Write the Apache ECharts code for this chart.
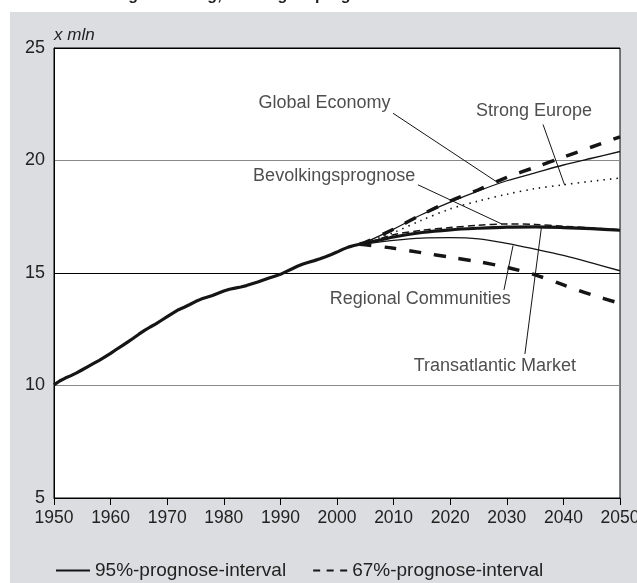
<!DOCTYPE html>
<html>
<head>
<meta charset="utf-8">
<script src="https://cdn.jsdelivr.net/npm/echarts@6/dist/echarts.min.js"></script>
<style>
  html, body { margin: 0; padding: 0; background: #fff; }
  #main { width: 637px; height: 583px; }
</style>
</head>
<body>
<div id="main"></div>
<script>
// observed population, x mln
var histYears = [1950, 1951, 1952, 1953, 1954, 1955, 1956, 1957, 1958, 1959,
  1960, 1961, 1962, 1963, 1964, 1965, 1966, 1967, 1968, 1969,
  1970, 1971, 1972, 1973, 1974, 1975, 1976, 1977, 1978, 1979,
  1980, 1981, 1982, 1983, 1984, 1985, 1986, 1987, 1988, 1989,
  1990, 1991, 1992, 1993, 1994, 1995, 1996, 1997, 1998, 1999,
  2000, 2001, 2002, 2003, 2004];
var histValues = [10.03, 10.2, 10.33, 10.44, 10.56, 10.7, 10.84, 10.98, 11.12, 11.27,
  11.43, 11.6, 11.76, 11.93, 12.1, 12.28, 12.45, 12.6, 12.74, 12.9,
  13.06, 13.22, 13.37, 13.48, 13.6, 13.73, 13.84, 13.92, 14.0, 14.1,
  14.2, 14.28, 14.33, 14.38, 14.44, 14.52, 14.6, 14.69, 14.78, 14.86,
  14.94, 15.06, 15.18, 15.3, 15.4, 15.48, 15.55, 15.63, 15.72, 15.82,
  15.93, 16.05, 16.15, 16.22, 16.28];

// projections
var projYears = [2004, 2005, 2010, 2015, 2020, 2025, 2030, 2035, 2040, 2045, 2050];
var upper95 = [16.28, 16.36, 16.95, 17.6, 18.2, 18.7, 19.25, 19.7, 20.15, 20.6, 21.05];
var globalEconomy = [16.28, 16.36, 16.95, 17.6, 18.15, 18.65, 19.1, 19.45, 19.8, 20.1, 20.4];
var strongEurope = [16.28, 16.34, 16.8, 17.35, 17.85, 18.2, 18.5, 18.75, 18.92, 19.08, 19.22];
var upper67 = [16.28, 16.32, 16.7, 16.9, 17.02, 17.12, 17.18, 17.16, 17.08, 17.0, 16.93];
var prognose = [16.28, 16.32, 16.6, 16.8, 16.92, 16.99, 17.04, 17.05, 17.02, 16.97, 16.9];
var regionalCommunities = [16.28, 16.3, 16.45, 16.55, 16.57, 16.52, 16.32, 16.06, 15.78, 15.45, 15.1];
var lower95 = [16.28, 16.25, 16.1, 15.9, 15.7, 15.5, 15.25, 14.92, 14.47, 14.03, 13.65];

// annotations: label position and leader line [from, to]
var noteNames = ['Global Economy', 'Strong Europe', 'Bevolkingsprognose', 'Regional Communities', 'Transatlantic Market'];
var notePos = [[1997.8, 22.57], [2034.8, 22.18], [1999.5, 19.32], [2014.7, 13.83], [2027.9, 10.88]];
var noteLines = [
  [[2009.9, 22.1], [2028.1, 19.07]],
  [[2036.4, 21.6], [2040.2, 18.92]],
  [[2014.3, 18.92], [2029.1, 17.18]],
  [[2029.5, 14.25], [2031.1, 16.22]],
  [[2033.2, 11.4], [2036.1, 16.99]]
];

var legendNames = ['95%-prognose-interval', '67%-prognose-interval'];
var yTickColors = ['#000', '#888', '#000', '#888', '#000'];

function pairs(xs, ys) {
  return xs.map(function (x, i) { return [x, ys[i]]; });
}

var font = "'Liberation Sans', Arial, sans-serif";
var ink = '#151515';

function projLine(name, values, width, type) {
  return {
    name: name,
    type: 'line',
    data: pairs(projYears, values),
    smooth: 0.3,
    symbol: 'none',
    silent: true,
    z: 3,
    lineStyle: { color: ink, width: width, type: type }
  };
}

var chart = echarts.init(document.getElementById('main'), null, { renderer: 'canvas' });

var option = {
  backgroundColor: '#fff',
  animation: false,
  textStyle: { fontFamily: font },
  graphic: [
    {
      type: 'rect',
      z: -10,
      silent: true,
      shape: { x: 10, y: 12, width: 627, height: 571 },
      style: { fill: '#dcdde0' }
    },
    {
      type: 'text',
      left: 74,
      top: -12,
      silent: true,
      style: {
        text: 'Omvang bevolking, omvang en prognose',
        font: 'bold 16px ' + font,
        fill: '#222'
      }
    }
  ],
  grid: {
    left: 54,
    right: 17,
    top: 48,
    bottom: 85,
    outerBoundsMode: 'none',
    containLabel: false,
    show: true,
    backgroundColor: '#fff',
    borderColor: '#000',
    borderWidth: 1
  },
  legend: {
    left: 55,
    bottom: 3,
    padding: 0,
    itemWidth: 34,
    itemHeight: 10,
    itemGap: 26,
    selectedMode: false,
    data: legendNames,
    itemStyle: { opacity: 0 },
    textStyle: { fontSize: 19, color: '#222', fontFamily: font }
  },
  xAxis: {
    type: 'value',
    min: 1950,
    max: 2050,
    interval: 10,
    axisLine: { lineStyle: { color: '#000', width: 1 } },
    axisTick: { show: true, length: 7, lineStyle: { color: '#000' } },
    axisLabel: {
      fontSize: 17.5,
      color: '#222',
      margin: 11,
      formatter: function (v) { return String(v); }
    },
    splitLine: { show: false }
  },
  yAxis: {
    type: 'value',
    min: 5,
    max: 25,
    interval: 5,
    name: 'x mln',
    nameLocation: 'end',
    nameGap: 4,
    nameTextStyle: { fontSize: 17, fontStyle: 'italic', color: '#222', align: 'left' },
    axisLine: { show: true, lineStyle: { color: '#000' } },
    axisTick: { show: false },
    axisLabel: { fontSize: 18, color: '#222', margin: 9 },
    splitLine: { show: true, lineStyle: { color: yTickColors, width: 1 } }
  },
  series: [
    {
      name: 'observed',
      type: 'line',
      data: pairs(histYears, histValues),
      symbol: 'none',
      silent: true,
      z: 4,
      lineStyle: { color: ink, width: 3.2 }
    },
    projLine('upper95', upper95, 3.5, [12, 13]),
    projLine('Global Economy', globalEconomy, 1.3, 'solid'),
    projLine('Strong Europe', strongEurope, 1.6, [1.5, 5]),
    projLine('upper67', upper67, 1.5, [7, 4]),
    projLine('Bevolkingsprognose', prognose, 3.2, 'solid'),
    projLine('Regional Communities', regionalCommunities, 1.3, 'solid'),
    projLine('lower95', lower95, 3.5, [12, 13]),
    {
      name: 'notes',
      type: 'lines',
      coordinateSystem: 'cartesian2d',
      silent: true,
      z: 5,
      data: noteLines.map(function (c) { return { coords: c }; }),
      lineStyle: { color: ink, width: 1, opacity: 1 }
    },
    {
      name: 'noteLabels',
      type: 'scatter',
      symbolSize: 0,
      silent: true,
      z: 6,
      data: notePos.map(function (p, i) { return { name: noteNames[i], value: p }; }),
      label: {
        show: true,
        position: 'inside',
        formatter: '{b}',
        fontSize: 18,
        color: '#222',
        fontFamily: font
      }
    },
    {
      name: legendNames[0],
      type: 'line',
      data: [],
      symbol: 'none',
      itemStyle: { color: ink },
      lineStyle: { color: ink, width: 1.3, type: 'solid' }
    },
    {
      name: legendNames[1],
      type: 'line',
      data: [],
      symbol: 'none',
      itemStyle: { color: ink },
      lineStyle: { color: ink, width: 1.3, type: [7, 6.5] }
    }
  ]
};

chart.setOption(option);
</script>
</body>
</html>
